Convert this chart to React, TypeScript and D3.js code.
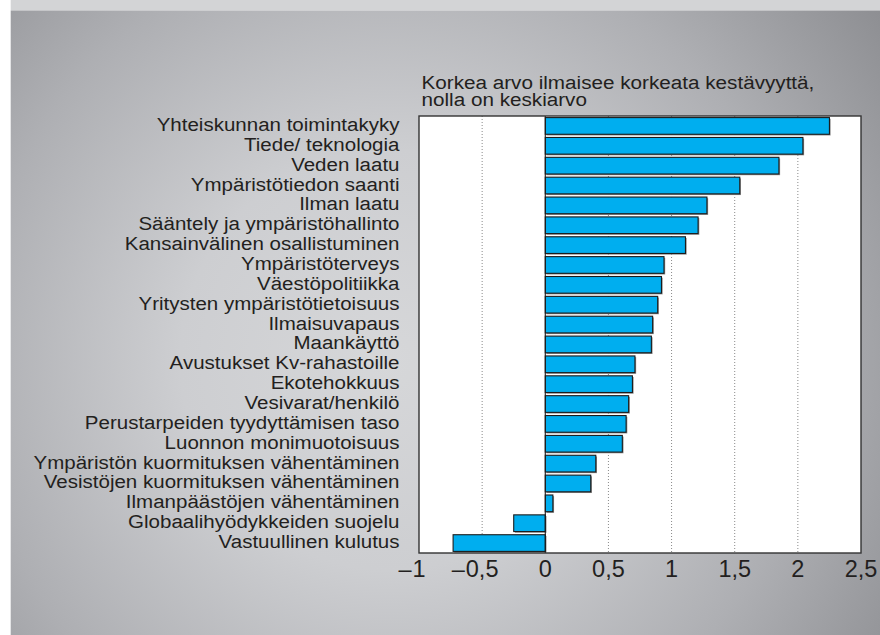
import React from "react";
import * as d3 from "d3";

const categories = [
  "Yhteiskunnan toimintakyky",
  "Tiede/ teknologia",
  "Veden laatu",
  "Ympäristötiedon saanti",
  "Ilman laatu",
  "Sääntely ja ympäristöhallinto",
  "Kansainvälinen osallistuminen",
  "Ympäristöterveys",
  "Väestöpolitiikka",
  "Yritysten ympäristötietoisuus",
  "Ilmaisuvapaus",
  "Maankäyttö",
  "Avustukset Kv-rahastoille",
  "Ekotehokkuus",
  "Vesivarat/henkilö",
  "Perustarpeiden tyydyttämisen taso",
  "Luonnon monimuotoisuus",
  "Ympäristön kuormituksen vähentäminen",
  "Vesistöjen kuormituksen vähentäminen",
  "Ilmanpäästöjen vähentäminen",
  "Globaalihyödykkeiden suojelu",
  "Vastuullinen kulutus",
];

const values = [
  2.25, 2.04, 1.85, 1.54, 1.28, 1.21, 1.11, 0.94, 0.92, 0.89, 0.85, 0.84,
  0.71, 0.69, 0.66, 0.64, 0.61, 0.4, 0.36, 0.06, -0.25, -0.73,
];

const xTicks = [-1, -0.5, 0, 0.5, 1, 1.5, 2, 2.5];
const gridTicks = [-0.5, 0.5, 1, 1.5, 2];
const titleLines = ["Korkea arvo ilmaisee korkeata kestävyyttä,", "nolla on keskiarvo"];

const W = 880;
const H = 635;
const plot = { left: 419, right: 861, top: 116, bottom: 553 };
const FONT = "'Liberation Sans', Arial, Helvetica, sans-serif";

export default function App() {
  const x = d3.scaleLinear().domain([-1, 2.5]).range([plot.left, plot.right]);
  const y = d3
    .scaleBand<string>()
    .domain(categories)
    .range([plot.top, plot.bottom])
    .paddingInner(0.16)
    .paddingOuter(0.08);

  const tickFont = 23.5;
  const numWidth = (s: string) =>
    s.split("").reduce((a, c) => a + (c === "," ? 0.278 : 0.556), 0) * tickFont;

  return (
    <svg
      width={W}
      height={H}
      style={{ position: "absolute", left: 0, top: 0 }}
      fontFamily={FONT}
    >
      <defs>
        <radialGradient
          id="bg"
          gradientUnits="userSpaceOnUse"
          cx={390}
          cy={360}
          r={600}
        >
          <stop offset="0" stopColor="#d6d7d9" />
          <stop offset="0.35" stopColor="#cdced1" />
          <stop offset="0.7" stopColor="#aeafb3" />
          <stop offset="1" stopColor="#8e8f93" />
        </radialGradient>
      </defs>
      <rect x={0} y={0} width={W} height={H} fill="#ffffff" />
      <rect x={10.7} y={0} width={W - 10.7} height={10.5} fill="#d3d4d6" />
      <rect x={10.7} y={10.5} width={W - 10.7} height={H - 10.5} fill="url(#bg)" />

      {/* title */}
      {titleLines.map((t, i) => (
        <text
          key={i}
          transform={`translate(421.5,${89 + i * 17}) scale(1.1,1)`}
          fontSize={18.8}
          fill="#231f20"
        >
          {t}
        </text>
      ))}

      {/* plot area */}
      <rect
        x={plot.left}
        y={plot.top}
        width={plot.right - plot.left}
        height={plot.bottom - plot.top}
        fill="#ffffff"
      />
      {gridTicks.map((t) => (
        <line
          key={t}
          x1={x(t)}
          x2={x(t)}
          y1={plot.top}
          y2={plot.bottom}
          stroke="#8a8a8a"
          strokeWidth={1}
          strokeDasharray="1 2"
        />
      ))}

      {/* bars */}
      {categories.map((c, i) => {
        const v = values[i];
        const x0 = x(Math.min(0, v));
        const x1 = x(Math.max(0, v));
        const yy = y(c)!;
        const h = y.bandwidth();
        return (
          <g key={c}>
            <rect
              x={x0 + 1.2}
              y={yy + 1.2}
              width={x1 - x0}
              height={h}
              fill="#8c8c8c"
            />
            <rect
              x={x0}
              y={yy}
              width={x1 - x0}
              height={h}
              fill="#00aeef"
              stroke="#1c1c1c"
              strokeWidth={1.1}
            />
          </g>
        );
      })}
      <line
        x1={x(0)}
        x2={x(0)}
        y1={plot.top}
        y2={plot.bottom}
        stroke="#1c1c1c"
        strokeWidth={1.1}
      />

      {/* frame */}
      <rect
        x={plot.left}
        y={plot.top}
        width={plot.right - plot.left}
        height={plot.bottom - plot.top}
        fill="none"
        stroke="#333333"
        strokeWidth={1.4}
      />

      {/* category labels */}
      {categories.map((c) => (
        <text
          key={c}
          transform={`translate(399.5,${y(c)! + y.bandwidth() / 2 + 5}) scale(1.08,1)`}
          fontSize={19}
          textAnchor="end"
          fill="#231f20"
        >
          {c}
        </text>
      ))}

      {/* x tick labels */}
      {xTicks.map((t) => {
        const s = d3.format(".1~f")(Math.abs(t)).replace(".", ",");
        const cx = x(t);
        const w = numWidth(s);
        return (
          <g key={t}>
            <text
              x={cx}
              y={577}
              fontSize={tickFont}
              textAnchor="middle"
              fill="#231f20"
            >
              {s}
            </text>
            {t < 0 && (
              <text
                x={cx - w / 2 - 1}
                y={577}
                fontSize={tickFont}
                textAnchor="end"
                fill="#231f20"
              >
                –
              </text>
            )}
          </g>
        );
      })}
    </svg>
  );
}
